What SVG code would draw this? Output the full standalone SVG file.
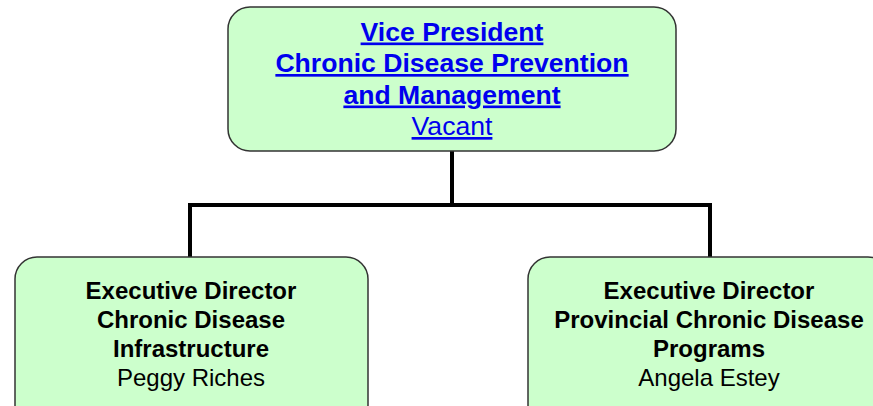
<svg xmlns="http://www.w3.org/2000/svg" width="873" height="406" viewBox="0 0 873 406">
<style>
.box{fill:#ccffcc;stroke:#333333;stroke-width:1.5}
.t{font-family:"Liberation Sans",Arial,sans-serif;text-anchor:middle}
.link{fill:#0000ee;text-decoration:underline;font-size:26.6px}
.b{font-weight:bold}
.d{fill:#000000;font-size:24px}
.conn{fill:none;stroke:#000000;stroke-width:4}
</style>
<rect width="873" height="406" fill="#ffffff"/>
<g id="connectors">
<path class="conn" d="M452 151 V205 M190 205 H710 M190 203 V257 M710 203 V257"/>
</g>
<g id="vp">
<rect class="box" x="228" y="7" width="448" height="144" rx="22"/>
<text class="t link b" x="452" y="40.5">Vice President</text>
<text class="t link b" x="452" y="72">Chronic Disease Prevention</text>
<text class="t link b" x="452" y="103.5">and Management</text>
<text class="t link" x="452" y="135">Vacant</text>
</g>
<g id="ed1">
<rect class="box" x="15" y="257" width="353" height="170" rx="22"/>
<text class="t d b" x="191" y="299">Executive Director</text>
<text class="t d b" x="191" y="328">Chronic Disease</text>
<text class="t d b" x="191" y="357">Infrastructure</text>
<text class="t d" x="191" y="385.5">Peggy Riches</text>
</g>
<g id="ed2">
<rect class="box" x="528" y="257" width="362" height="170" rx="22"/>
<text class="t d b" x="709" y="299">Executive Director</text>
<text class="t d b" x="709" y="328">Provincial Chronic Disease</text>
<text class="t d b" x="709" y="357">Programs</text>
<text class="t d" x="709" y="385.5">Angela Estey</text>
</g>
</svg>
